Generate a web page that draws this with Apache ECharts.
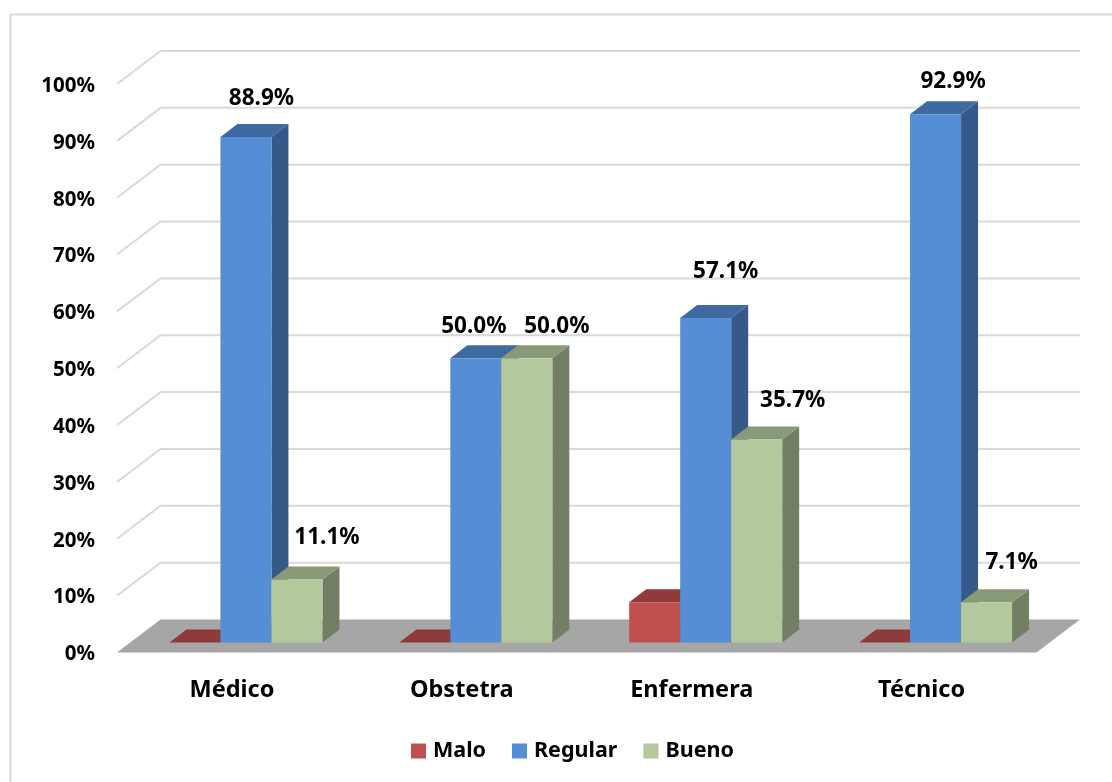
<!DOCTYPE html>
<html><head><meta charset="utf-8">
<style>html,body{margin:0;padding:0;background:#fff}#c{width:1112px;height:782px}</style>
<script src="https://cdn.jsdelivr.net/npm/echarts@6/dist/echarts.min.js"></script>
</head><body><div id="c"></div>
<script>
const categories = ['Médico', 'Obstetra', 'Enfermera', 'Técnico'];
const malo = [0, 0, 7.1, 0];
const regular = [88.9, 50.0, 57.1, 92.9];
const bueno = [11.1, 50.0, 35.7, 7.1];
const wallTicks = [10, 20, 30, 40, 50, 60, 70, 80, 90, 100];

// layout constants (pixels)
const FONT = '"Noto Sans", sans-serif';
const WALL_DX = 43.5, WALL_DY = 33;
const PLANE_DX = 14, PLANE_DY = 10;
const BAR_W = 51, BAR_DX = 17, BAR_DY = 13;
const regularLabelShift = [[15.5, -39], [-2, -32], [20, -46], [17.5, -33]];
const buenoLabelShift = [[30, -42], [30, -32], [36, -39], [25, -40]];

function barSeries(name, values, slot, front, top, side) {
  return {
    type: 'custom', name, silent: true, z: 3,
    itemStyle: { color: front },
    encode: { x: 0, y: 1 },
    data: values.map((v, i) => [i, v]),
    renderItem(params, api) {
      const t = api.coord([api.value(0), api.value(1)]);
      const b = api.coord([api.value(0), 0]);
      const x0 = t[0] + PLANE_DX + (slot - 1.5) * BAR_W;
      const x1 = x0 + BAR_W;
      const yt = t[1] - PLANE_DY, yb = b[1] - PLANE_DY;
      return { type: 'group', children: [
        { type: 'polygon', shape: { points: [[x1, yb], [x1 + BAR_DX, yb - BAR_DY], [x1 + BAR_DX, yt - BAR_DY], [x1, yt]] }, style: { fill: side } },
        { type: 'polygon', shape: { points: [[x0, yt], [x0 + BAR_DX, yt - BAR_DY], [x1 + BAR_DX, yt - BAR_DY], [x1, yt]] }, style: { fill: top } },
        { type: 'rect', shape: { x: x0, y: yt, width: BAR_W, height: yb - yt }, style: { fill: front } }
      ] };
    }
  };
}

function labelSeries(values, slot, shifts) {
  return {
    type: 'custom', silent: true, z: 6,
    encode: { x: 0, y: 1 },
    data: values.map((v, i) => [i, v]),
    renderItem(params, api) {
      const i = api.value(0), v = api.value(1);
      const t = api.coord([i, v]);
      const cx = t[0] + PLANE_DX + (slot - 1) * BAR_W;
      return { type: 'text', style: {
        x: cx + shifts[i][0], y: t[1] - PLANE_DY + shifts[i][1],
        text: v.toFixed(1) + '%', fill: '#000', fontFamily: FONT, fontWeight: 700, fontSize: 22.5,
        align: 'center', verticalAlign: 'middle'
      } };
    }
  };
}

const chart = echarts.init(document.getElementById('c'));
chart.setOption({
  animation: false,
  backgroundColor: '#fff',
  graphic: [{ type: 'polyline', silent: true, shape: { points: [[10.5, 782], [10.5, 14.5], [1112, 14.5]] }, style: { stroke: '#d9d9d9', lineWidth: 2, fill: null } }],
  grid: { left: 117, right: 75.5, top: 84, bottom: 129.5 },
  xAxis: {
    type: 'category', data: categories,
    axisLine: { show: false }, axisTick: { show: false },
    axisLabel: { color: '#000', fontFamily: FONT, fontWeight: 700, fontSize: 23.5, margin: 26 }
  },
  yAxis: {
    type: 'value', min: 0, max: 100, interval: 10,
    splitLine: { show: false }, axisLine: { show: false }, axisTick: { show: false },
    axisLabel: { formatter: '{value}%', color: '#000', fontFamily: FONT, fontWeight: 700, fontSize: 20.5, margin: 22, verticalAlign: 'top', lineHeight: 4 }
  },
  legend: {
    data: ['Malo', 'Regular', 'Bueno'], left: 406, top: 735, orient: 'horizontal',
    icon: 'rect', itemWidth: 15, itemHeight: 15, itemGap: 26, selectedMode: false,
    textStyle: { color: '#000', fontFamily: FONT, fontWeight: 700, fontSize: 21.5, padding: [0, 0, 0, 2] }
  },
  series: [
    {
      type: 'custom', silent: true, z: 1,
      encode: { y: 0 },
      data: wallTicks.map(v => [v]),
      renderItem(params, api) {
        const cs = params.coordSys;
        const y = api.coord([0, api.value(0)])[1];
        return { type: 'polyline', shape: { points: [[cs.x, y], [cs.x + WALL_DX, y - WALL_DY], [cs.x + cs.width + WALL_DX, y - WALL_DY]] },
          style: { stroke: '#d9d9d9', lineWidth: 2, fill: null } };
      }
    },
    {
      type: 'custom', silent: true, z: 2,
      encode: { y: 0 },
      data: [[0]],
      renderItem(params, api) {
        const cs = params.coordSys;
        const y = api.coord([0, api.value(0)])[1];
        return { type: 'polygon', shape: { points: [[cs.x, y], [cs.x + WALL_DX, y - WALL_DY], [cs.x + cs.width + WALL_DX, y - WALL_DY], [cs.x + cs.width, y]] },
          style: { fill: '#a6a6a6' } };
      }
    },
    barSeries('Malo', malo, 0, '#c0504d', '#8f3b39', '#7f3331'),
    barSeries('Regular', regular, 1, '#558ed5', '#3f6aa1', '#355a8a'),
    barSeries('Bueno', bueno, 2, '#b3c99d', '#8a9a78', '#727f64'),
    labelSeries(regular, 1, regularLabelShift),
    labelSeries(bueno, 2, buenoLabelShift)
  ]
});
</script></body></html>
